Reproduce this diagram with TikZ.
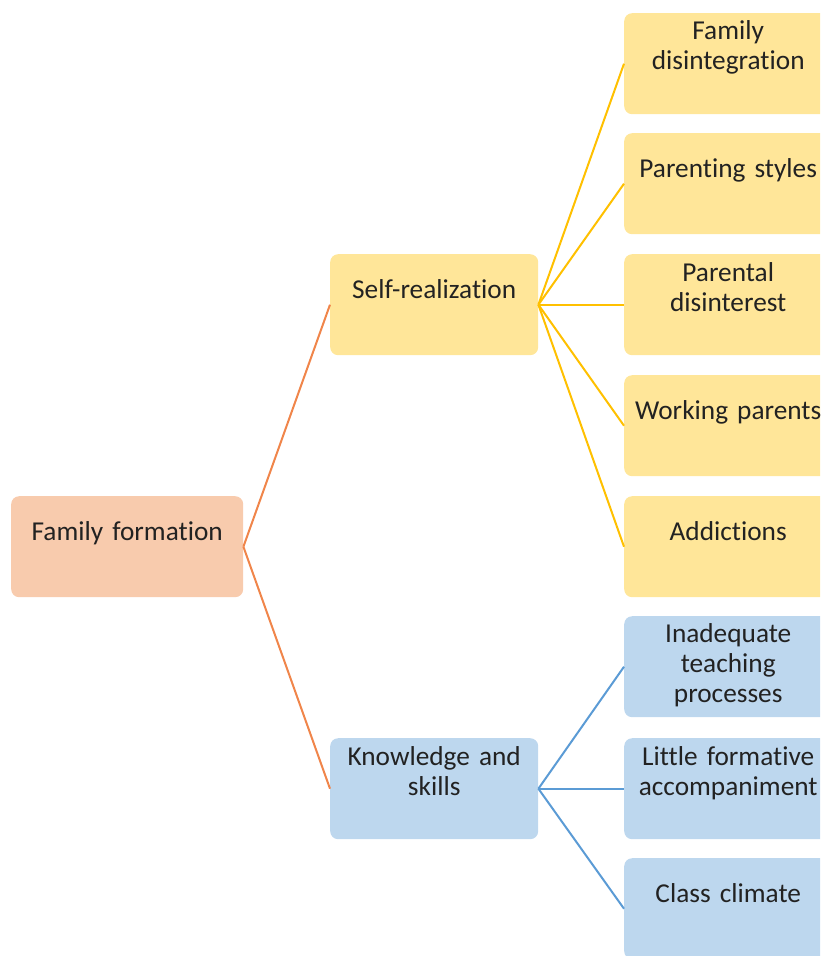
\documentclass[tikz,border=0pt]{standalone}
\usepackage{fontspec}
\setmainfont{Carlito}[Ligatures={NoCommon}]
\definecolor{ofill}{HTML}{F8CBAD}
\definecolor{yfill}{HTML}{FFE699}
\definecolor{bfill}{HTML}{BDD7EE}
\definecolor{oline}{HTML}{F0854A}
\definecolor{yline}{HTML}{FFC000}
\definecolor{bline}{HTML}{5B9BD5}
\definecolor{txt}{HTML}{222222}
\tikzset{
  basebox/.style={rounded corners=8pt, inner sep=0pt, anchor=north west, minimum height=101pt, draw=none},
  orangebox/.style={basebox, fill=ofill, minimum width=232pt},
  yellowbox/.style={basebox, fill=yfill, minimum width=208pt},
  bluebox/.style={basebox, fill=bfill, minimum width=208pt},
  lbl/.style={inner sep=0pt, anchor=base, text width=260pt, align=center, text=txt,
    font=\fontsize{27.3}{30}\selectfont},
  conn/.style={line width=2pt},
}
\begin{document}
\begin{tikzpicture}[x=1pt,y=-1pt]
\useasboundingbox (0,0) rectangle (820,956);
\clip (0,0) rectangle (820,956);
% boxes
\node[orangebox] (ff) at (11,496) {};
\node[yellowbox] (sr) at (330,254) {};
\node[bluebox] (ks) at (330,738) {};
\node[yellowbox] (c1) at (624,13) {};
\node[yellowbox] (c2) at (624,133) {};
\node[yellowbox] (c3) at (624,254) {};
\node[yellowbox] (c4) at (624,375) {};
\node[yellowbox] (c5) at (624,496) {};
\node[bluebox] (c6) at (624,616) {};
\node[bluebox] (c7) at (624,738) {};
\node[bluebox] (c8) at (624,858) {};
% labels
\node[lbl] (ff-t) at ([yshift=-44pt]ff.north) {Family formation};
\node[lbl] (sr-t) at ([yshift=-44pt]sr.north) {Self-realization};
\node[lbl] (ks-t) at ([yshift=-27pt]ks.north) {Knowledge and\\skills};
\node[lbl] (c1-t) at ([yshift=-26pt]c1.north) {Family\\disintegration};
\node[lbl] (c2-t) at ([yshift=-44pt]c2.north) {Parenting styles};
\node[lbl] (c3-t) at ([yshift=-27pt]c3.north) {Parental\\disinterest};
\node[lbl] (c4-t) at ([yshift=-44pt]c4.north) {Working parents};
\node[lbl] (c5-t) at ([yshift=-44pt]c5.north) {Addictions};
\node[lbl] (c6-t) at ([yshift=-26pt]c6.north) {Inadequate\\teaching\\processes};
\node[lbl] (c7-t) at ([yshift=-27pt]c7.north) {Little formative\\accompaniment};
\node[lbl] (c8-t) at ([yshift=-44pt]c8.north) {Class climate};
% connectors
\draw[conn, oline] (ff.east) -- (sr.west);
\draw[conn, oline] (ff.east) -- (ks.west);
\foreach \c in {c1,c2,c3,c4,c5}{\draw[conn, yline] (sr.east) -- (\c.west);}
\foreach \c in {c6,c7,c8}{\draw[conn, bline] (ks.east) -- (\c.west);}
\end{tikzpicture}
\end{document}
